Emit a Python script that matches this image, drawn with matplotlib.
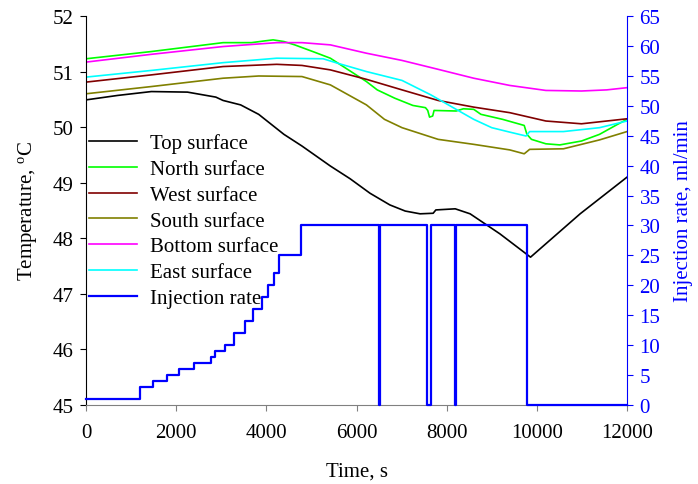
import matplotlib
matplotlib.use('Agg')
import matplotlib.pyplot as plt

plt.rcParams['font.family'] = ['Liberation Serif', 'DejaVu Serif']
plt.rcParams['mathtext.fontset'] = 'stix'

# Temperature series (time in s, temperature in C)
t_top = [0, 700, 1450, 2250, 2880, 3040, 3430, 3830, 4390, 4790, 5420, 5860,
         6300, 6740, 7080, 7410, 7700, 7760, 8190, 8520, 9180, 9860, 10960, 12000]
T_top = [50.49, 50.57, 50.64, 50.63, 50.54, 50.48, 50.40, 50.23, 49.87, 49.66,
         49.30, 49.07, 48.81, 48.60, 48.49, 48.44, 48.45, 48.51, 48.53, 48.44,
         48.08, 47.66, 48.44, 49.10]

t_north = [0, 1450, 3040, 3670, 3950, 4150, 4390, 4630, 5030, 5420, 5820, 6220,
           6460, 6850, 7250, 7530, 7580, 7620, 7690, 7720, 8210, 8370, 8600,
           8760, 9240, 9720, 9780, 9880, 10200, 10510, 10990, 11390, 11790, 12000]
T_north = [51.23, 51.36, 51.52, 51.52, 51.55, 51.57, 51.54, 51.48, 51.36, 51.24,
           51.03, 50.82, 50.67, 50.52, 50.39, 50.35, 50.30, 50.18, 50.20, 50.30,
           50.29, 50.33, 50.32, 50.23, 50.14, 50.03, 49.87, 49.78, 49.70, 49.68,
           49.75, 49.87, 50.05, 50.14]

t_west = [0, 1450, 3040, 4230, 4790, 5420, 6220, 7010, 7810, 8600, 9400, 10200,
          10990, 11550, 12000]
T_west = [50.81, 50.94, 51.09, 51.13, 51.11, 51.03, 50.86, 50.67, 50.48, 50.36,
          50.26, 50.11, 50.06, 50.11, 50.15]

t_south = [0, 1450, 3040, 3830, 4790, 5420, 6220, 6620, 7010, 7810, 8600, 9400,
           9720, 9840, 10590, 11390, 12000]
T_south = [50.60, 50.73, 50.88, 50.92, 50.91, 50.76, 50.40, 50.14, 49.99, 49.78,
           49.69, 49.59, 49.52, 49.60, 49.61, 49.77, 49.92]

t_bottom = [0, 1450, 3040, 4230, 4790, 5420, 6220, 7010, 7810, 8600, 9400, 10200,
            10990, 11550, 12000]
T_bottom = [51.17, 51.31, 51.45, 51.52, 51.52, 51.48, 51.33, 51.20, 51.04, 50.88,
            50.75, 50.66, 50.65, 50.67, 50.71]

t_east = [0, 1450, 3040, 4230, 5260, 5580, 6220, 7010, 7650, 8210, 8600, 9000,
          9400, 9760, 9840, 10590, 11390, 12000]
T_east = [50.90, 51.02, 51.16, 51.24, 51.23, 51.15, 51.00, 50.84, 50.58, 50.32,
          50.14, 49.99, 49.91, 49.84, 49.92, 49.92, 49.99, 50.11]

# Injection rate (ml/min), step changes
t_inj = [0, 1190, 1490, 1800, 2060, 2390, 2780, 2860, 3090, 3290, 3530, 3710,
         3900, 4030, 4160, 4290, 4770, 6490, 6530, 7560, 7650, 8180, 8200, 9780, 12000]
r_inj = [1, 3, 4, 5, 6, 7, 8, 9, 10, 12, 14, 16, 18, 20, 22, 25, 30, 0, 30, 0,
         30, 0, 30, 0, 0]

fs = 15
fig = plt.figure(figsize=(6.98, 4.85), dpi=100)
ax1 = fig.add_axes([0.1232, 0.1629, 0.7751, 0.8021])
ax2 = ax1.twinx()

lw = 1.2
h = []
h += ax1.plot(t_top, T_top, color='black', lw=lw, label='Top surface')
h += ax1.plot(t_north, T_north, color='#00ff00', lw=lw, label='North surface')
h += ax1.plot(t_west, T_west, color='#800000', lw=lw, label='West surface')
h += ax1.plot(t_south, T_south, color='#808000', lw=lw, label='South surface')
h += ax1.plot(t_bottom, T_bottom, color='#ff00ff', lw=lw, label='Bottom surface')
h += ax1.plot(t_east, T_east, color='#00ffff', lw=lw, label='East surface')
h += ax2.step(t_inj, r_inj, where='post', color='#0000ff', lw=1.6,
              label='Injection rate', clip_on=False)

ax1.set_xlim(0, 12000)
ax1.set_ylim(45, 52)
ax2.set_ylim(0, 65)
ax1.set_xticks(range(0, 12001, 2000))
ax1.set_yticks(range(45, 53))
ax2.set_yticks(range(0, 66, 5))

for ax in (ax1, ax2):
    ax.spines['top'].set_visible(False)
ax1.spines['right'].set_visible(False)
ax2.spines['left'].set_visible(False)
ax2.spines['bottom'].set_visible(False)
ax2.spines['right'].set_color('#0000ff')
ax1.spines['bottom'].set_color('#808080')

ax1.tick_params(axis='both', direction='out', length=4, labelsize=fs)
ax1.tick_params(axis='x', colors='#808080', labelcolor='black', pad=9)
ax1.tick_params(axis='y', pad=5)
ax2.tick_params(axis='y', direction='out', length=4, labelsize=fs, pad=5,
                colors='#0000ff', labelcolor='#0000ff')

ax1.set_xlabel('Time, s', fontsize=fs, labelpad=14)
ax1.set_ylabel(r'Temperature, $\mathregular{^{o}}$C', fontsize=fs, labelpad=10)
ax2.set_ylabel('Injection rate, ml/min', fontsize=fs, color='#0000ff', labelpad=10)

ax1.legend(handles=h, loc='upper left', bbox_to_anchor=(-0.009, 0.72),
           frameon=False, fontsize=fs, handlelength=2.3, handletextpad=0.6,
           labelspacing=0.3, borderaxespad=0)

fig.savefig('out.png', dpi=100)
